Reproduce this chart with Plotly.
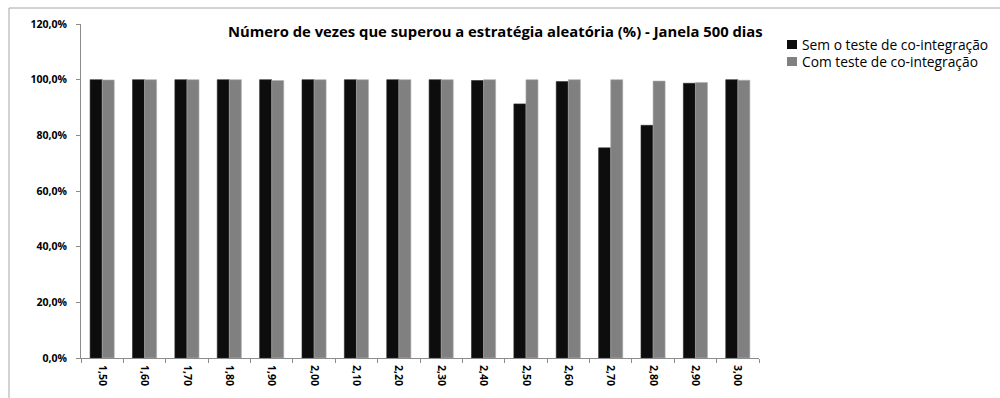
import plotly.graph_objects as go

# Limiar de entrada (categorias do eixo x)
categorias = ["1,50", "1,60", "1,70", "1,80", "1,90", "2,00", "2,10", "2,20",
              "2,30", "2,40", "2,50", "2,60", "2,70", "2,80", "2,90", "3,00"]

# Percentual de vezes que superou a estratégia aleatória
sem_cointegracao = [100.0, 100.0, 100.0, 100.0, 100.0, 100.0, 100.0, 100.0,
                    100.0, 99.7, 91.3, 99.3, 75.5, 83.6, 98.7, 100.0]
com_cointegracao = [99.9, 100.0, 100.0, 100.0, 99.7, 100.0, 100.0, 100.0,
                    100.0, 100.0, 100.0, 100.0, 100.0, 99.5, 99.0, 99.8]

nome_sem = "Sem o teste de co-integração"
nome_com = "Com teste de co-integração"
titulo = "Número de vezes que superou a estratégia aleatória (%) - Janela 500 dias"

cor_sem = "#0d0d0d"
cor_com = "#808080"

FONTE = "'Open Sans', sans-serif"

W, H = 1000, 398
ML, MR, MT, MB = 81, 241, 24, 40
PW, PH = W - ML - MR, H - MT - MB


def px_x(x):
    """Converte pixel horizontal da página em coordenada 'paper'."""
    return (x - ML) / PW


def px_y(y):
    """Converte pixel vertical da página em coordenada 'paper'."""
    return (H - MB - y) / PH


fig = go.Figure()
fig.add_trace(go.Bar(x=categorias, y=sem_cointegracao, name=nome_sem,
                     marker=dict(color=cor_sem, line=dict(color="#2a2a2a", width=0.6))))
fig.add_trace(go.Bar(x=categorias, y=com_cointegracao, name=nome_com,
                     marker=dict(color=cor_com, line=dict(color="#b0b0b0", width=0.6))))

tick_font = dict(size=10.5, family=FONTE, color="#000", weight="bold")

fig.update_layout(
    width=W, height=H,
    margin=dict(l=ML, r=MR, t=MT, b=MB),
    paper_bgcolor="white", plot_bgcolor="white",
    separators=",.",
    barmode="group", bargap=0.43, bargroupgap=0.0,
    font=dict(family=FONTE, color="#000000"),
    showlegend=False,
    xaxis=dict(type="category", showline=True, linecolor="#8c8c8c", linewidth=1,
               ticks="outside", tickson="boundaries", ticklen=4, tickcolor="#8c8c8c",
               tickangle=90, tickfont=tick_font, ticklabelstandoff=4,
               showgrid=False, zeroline=False),
    yaxis=dict(range=[0, 120], dtick=20, tickformat=".1f", ticksuffix="%",
               showline=True, linecolor="#8c8c8c", linewidth=1,
               ticks="outside", ticklen=4, tickcolor="#8c8c8c",
               tickfont=tick_font, ticklabelstandoff=7,
               showgrid=False, zeroline=False),
)

# Título
fig.add_annotation(text=titulo, xref="paper", yref="paper",
                   x=px_x(495.5), y=px_y(30.5), xanchor="center", yanchor="middle",
                   showarrow=False,
                   font=dict(size=14.8, family=FONTE, color="#000", weight="bold"))

# Legenda: quadrado de cor + rótulo de cada série
for nome, cor, yc in [(nome_sem, cor_sem, 44.5), (nome_com, cor_com, 61.5)]:
    fig.add_shape(type="rect", xref="paper", yref="paper",
                  x0=px_x(787), x1=px_x(797), y0=px_y(yc + 4.5), y1=px_y(yc - 4.5),
                  fillcolor=cor, line=dict(width=0))
    fig.add_annotation(text=nome, xref="paper", yref="paper",
                       x=px_x(800), y=px_y(yc), xanchor="left", yanchor="middle",
                       showarrow=False,
                       font=dict(size=13.8, family=FONTE, color="#000"))

# Moldura externa do gráfico
fig.add_shape(type="rect", xref="paper", yref="paper",
              x0=px_x(9), x1=px_x(1300), y0=px_y(600), y1=px_y(8),
              line=dict(color="#a6a6a6", width=1), layer="below")

fig.write_html("out.html")
